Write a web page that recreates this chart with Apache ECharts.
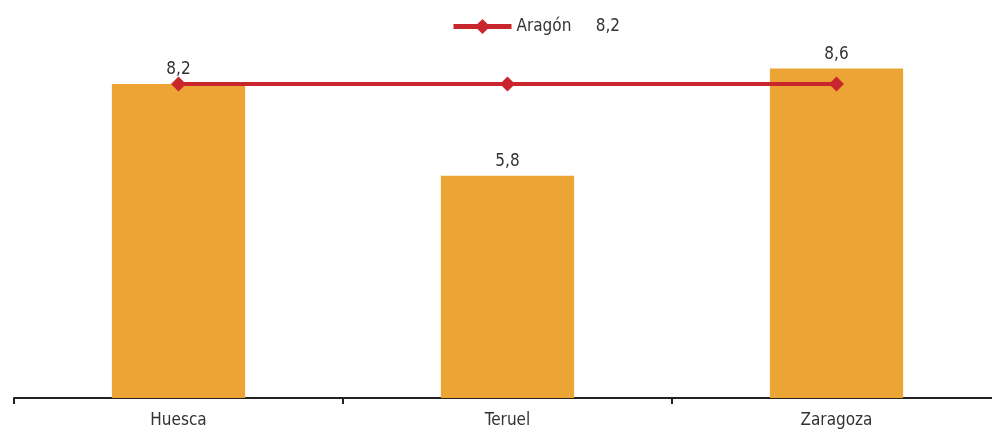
<!DOCTYPE html>
<html><head><meta charset="utf-8">
<script src="https://cdn.jsdelivr.net/npm/echarts@6/dist/echarts.min.js"></script>
<style>html,body{margin:0;padding:0;background:#fff}#c{width:992px;height:437px}</style>
</head><body><div id="c"></div>
<script>
const categories = ['Huesca', 'Teruel', 'Zaragoza'];
const barValues = [8.2, 5.8, 8.6];
const aragonValues = [8.2, 8.2, 8.2];
const aragonName = 'Aragón';
const aragonTotal = '8,2';
const FONT = '"Liberation Sans Narrow", "DejaVu Sans Condensed", "Roboto Condensed", sans-serif';
const fmt = v => String(v).replace('.', ',');
const chart = echarts.init(document.getElementById('c'), null, {renderer: 'canvas'});
chart.setOption({
  animation: false,
  textStyle: {fontFamily: FONT},
  grid: {left: 14, width: 987, top: 15, height: 383, containLabel: false, outerBoundsMode: 'none'},
  legend: {
    left: 446, top: 13, itemWidth: 58, itemHeight: 19, itemGap: 10,
    data: [aragonName],
    formatter: n => n + '     ' + aragonTotal,
    lineStyle: {width: 5},
    textStyle: {fontFamily: FONT, fontSize: 17, color: '#333'}
  },
  xAxis: {
    type: 'category', data: categories,
    axisLine: {lineStyle: {color: '#222', width: 2}},
    axisTick: {show: true, length: 6, lineStyle: {color: '#222', width: 2}},
    axisLabel: {fontFamily: FONT, fontSize: 17, color: '#333', margin: 14}
  },
  yAxis: {type: 'value', min: 0, max: 10, show: false, splitLine: {show: false}},
  series: [
    {
      type: 'bar', name: 'Provincias', data: barValues, barWidth: '40.5%',
      itemStyle: {color: '#eca535'},
      label: {show: true, position: 'top', distance: 6, formatter: p => fmt(p.value),
        fontFamily: FONT, fontSize: 17, color: '#333'}
    },
    {
      type: 'line', name: aragonName, data: aragonValues,
      symbol: 'diamond', symbolSize: 15,
      lineStyle: {color: '#c9252c', width: 4},
      itemStyle: {color: '#c9252c'},
      z: 5
    }
  ]
});
</script></body></html>
